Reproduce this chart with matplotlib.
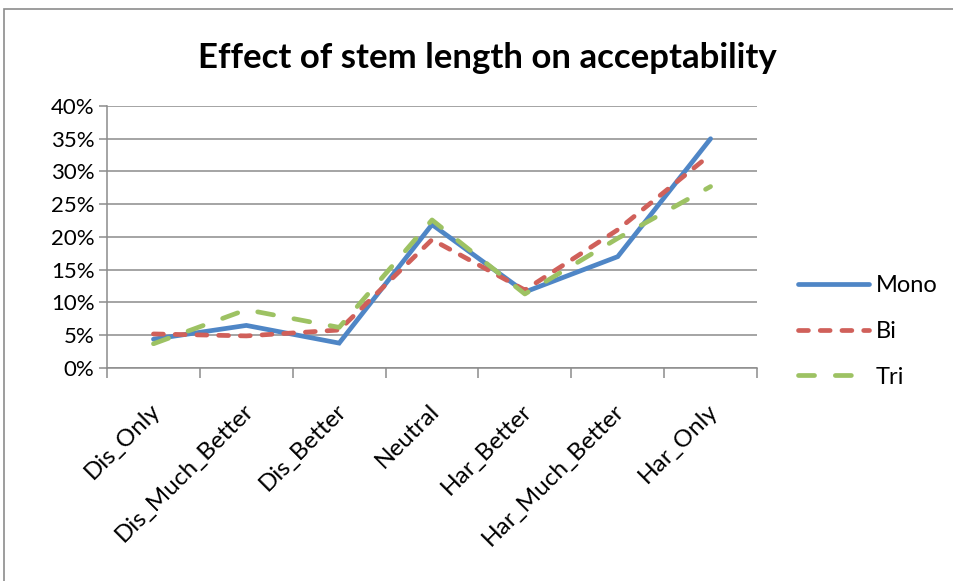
import matplotlib
matplotlib.use("Agg")
import matplotlib.pyplot as plt
import matplotlib.transforms as mtransforms
from matplotlib.patches import Rectangle
from matplotlib.ticker import PercentFormatter, MultipleLocator

categories = ["Dis_Only", "Dis_Much_Better", "Dis_Better", "Neutral",
              "Har_Better", "Har_Much_Better", "Har_Only"]
mono = [4.4, 6.5, 3.8, 21.9, 11.6, 17.0, 35.0]
bi = [5.2, 4.9, 5.8, 19.6, 11.9, 21.1, 32.6]
tri = [3.7, 8.9, 6.2, 22.6, 11.3, 19.8, 27.7]

plt.rcParams['font.family'] = ['Lato', 'DejaVu Sans']

fig = plt.figure(figsize=(9.54, 5.81), dpi=100)
ax = fig.add_axes([0.1122, 0.3666, 0.6813, 0.451])

# outer chart frame (cut off right and bottom in the reference)
fig.patches.append(Rectangle((4 / 954, -0.1), 1.1, 1 - 9 / 581 + 0.1,
                             transform=fig.transFigure, fill=False,
                             edgecolor='#8c8c8c', linewidth=1.2))

x = list(range(len(categories)))
ax.plot(x, mono, color='#4F86C6', linewidth=3.4, solid_capstyle='round',
        solid_joinstyle='miter', label='Mono', zorder=3)
ax.plot(x, bi, color='#D0605A', linewidth=3.4, dash_capstyle='round',
        dashes=(2.1, 2.5), label='Bi', zorder=4)
ax.plot(x, tri, color='#9DC263', linewidth=3.4, dash_capstyle='round',
        dashes=(3.4, 4.4), label='Tri', zorder=5)

ax.set_xlim(-0.5, len(categories) - 0.5)
ax.set_ylim(0, 40)
ax.yaxis.set_major_locator(MultipleLocator(5))
ax.yaxis.set_major_formatter(PercentFormatter(decimals=0))
ax.grid(axis='y', color='#8c8c8c', linewidth=1.1)
ax.set_axisbelow(True)

for s in ['top', 'right']:
    ax.spines[s].set_visible(False)
for s in ['left', 'bottom']:
    ax.spines[s].set_color('#8c8c8c')
    ax.spines[s].set_linewidth(1.1)

ax.set_xticks([i - 0.5 for i in range(len(categories) + 1)], minor=False)
ax.set_xticklabels([])
ax.set_xticks(x, minor=True)
ax.set_xticklabels(categories, minor=True, rotation=45, ha='right',
                   rotation_mode='anchor', fontsize=17.5)
ax.tick_params(axis='x', which='major', length=7, color='#8c8c8c', width=1.1)
ax.tick_params(axis='x', which='minor', length=0, pad=23)
ax.tick_params(axis='y', length=6, color='#8c8c8c', width=1.1, labelsize=16, pad=3)

# nudge category labels a little to the left
shift = mtransforms.ScaledTranslation(-4 / 100, 0, fig.dpi_scale_trans)
for lbl in ax.get_xticklabels(minor=True):
    lbl.set_transform(lbl.get_transform() + shift)

fig.text(0.511, 0.9, "Effect of stem length on acceptability",
         ha='center', va='center', fontsize=25, fontweight='bold')

ax.legend(loc='center left', bbox_to_anchor=(1.03, 0.14), frameon=False,
          fontsize=17, handlelength=3.0, labelspacing=1.05, handletextpad=0.3)

fig.savefig("out.png", dpi=100)
